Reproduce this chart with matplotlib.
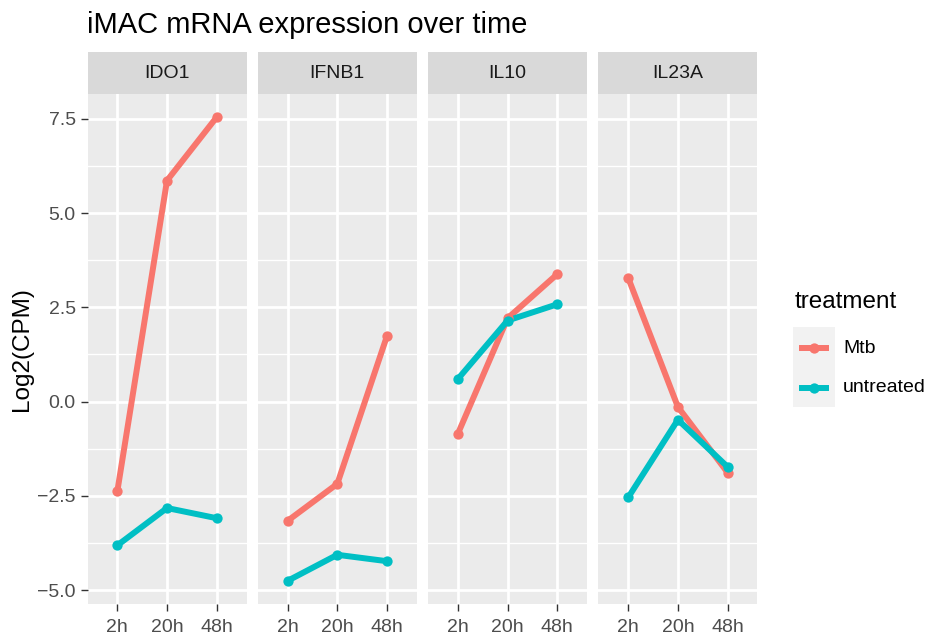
import matplotlib
matplotlib.use("Agg")
import matplotlib.pyplot as plt
import numpy as np

plt.rcParams["font.family"] = ["Liberation Sans", "DejaVu Sans"]

# log2 CPM per gene, one value per timepoint
genes = ["IDO1", "IFNB1", "IL10", "IL23A"]
timepoints = ["2h", "20h", "48h"]
treatments = ["Mtb", "untreated"]

ido1_mtb = [-2.38, 5.86, 7.54]
ido1_untreated = [-3.81, -2.82, -3.09]
ifnb1_mtb = [-3.16, -2.18, 1.74]
ifnb1_untreated = [-4.75, -4.06, -4.23]
il10_mtb = [-0.85, 2.21, 3.38]
il10_untreated = [0.60, 2.15, 2.58]
il23a_mtb = [3.28, -0.14, -1.88]
il23a_untreated = [-2.54, -0.48, -1.73]

y_ticks = [-5.0, -2.5, 0.0, 2.5, 5.0, 7.5]

series = {
    "IDO1": {"Mtb": ido1_mtb, "untreated": ido1_untreated},
    "IFNB1": {"Mtb": ifnb1_mtb, "untreated": ifnb1_untreated},
    "IL10": {"Mtb": il10_mtb, "untreated": il10_untreated},
    "IL23A": {"Mtb": il23a_mtb, "untreated": il23a_untreated},
}
colors = {"Mtb": "#F8766D", "untreated": "#00BFC4"}

W, H = 934, 635
fig = plt.figure(figsize=(W / 100, H / 100), dpi=100)


def px_box(x0, y0, x1, y1):
    return [x0 / W, 1 - y1 / H, (x1 - x0) / W, (y1 - y0) / H]


# shared y range, padded 5% like ggplot
all_vals = np.concatenate([series[g][t] for g in genes for t in treatments])
lo, hi = all_vals.min(), all_vals.max()
pad = 0.05 * (hi - lo)
ylim = (lo - pad, hi + pad)

x = np.arange(1, len(timepoints) + 1)
panel_w = 159
panel_step = 170.3
top, bottom = 94, 604

for i, gene in enumerate(genes):
    left = 87.5 + i * panel_step
    ax = fig.add_axes(px_box(left, top, left + panel_w, bottom))
    ax.set_facecolor("#EBEBEB")
    for sp in ax.spines.values():
        sp.set_visible(False)

    ax.set_xlim(0.4, len(timepoints) + 0.6)
    ax.set_ylim(ylim)
    ax.set_xticks(x, timepoints)
    ax.set_yticks(y_ticks)
    ax.set_yticks(np.array(y_ticks[:-1]) + 1.25, minor=True)
    ax.grid(which="major", color="white", lw=2.0)
    ax.grid(which="minor", axis="y", color="white", lw=1.0)
    ax.set_axisbelow(True)
    ax.tick_params(which="major", length=5, width=1.0, color="#333333",
                   labelcolor="#4D4D4D", labelsize=14)
    ax.tick_params(axis="x", pad=6)
    ax.tick_params(axis="y", pad=3.5)
    ax.tick_params(which="minor", length=0)
    if i == 0:
        ax.set_yticklabels([f"{v:.1f}".replace("-", "\u2212") for v in y_ticks])
    else:
        ax.tick_params(axis="y", which="major", length=0, labelleft=False)

    for t in treatments:
        ax.plot(x, series[gene][t], color=colors[t], lw=4.3,
                solid_capstyle="butt", zorder=2)
    for t in treatments:
        ax.scatter(x, series[gene][t], color=colors[t], s=55, lw=0, zorder=3)

    strip = fig.add_axes(px_box(left, 52, left + panel_w, top))
    strip.set_facecolor("#D9D9D9")
    strip.set_xticks([])
    strip.set_yticks([])
    for sp in strip.spines.values():
        sp.set_visible(False)
    strip.text(0.5, 0.5, gene, ha="center", va="center", fontsize=14,
               color="#1A1A1A", transform=strip.transAxes)

fig.text(87 / W, 1 - 25 / H, "iMAC mRNA expression over time",
         fontsize=21, ha="left", va="center")
fig.text(22 / W, 1 - 349 / H, "Log2(CPM)", rotation=90, fontsize=17.5,
         ha="center", va="center")

# legend
fig.text(795 / W, 1 - 302 / H, "treatment", fontsize=17.5, ha="left", va="center")
key = fig.add_axes(px_box(793, 327, 835, 407))
key.set_facecolor("#F2F2F2")
key.set_xlim(0, 1)
key.set_ylim(0, 1)
key.set_xticks([])
key.set_yticks([])
for sp in key.spines.values():
    sp.set_visible(False)
for t, ky, ty in zip(treatments, [0.74, 0.24], [348, 388]):
    key.plot([0.14, 0.86], [ky, ky], color=colors[t], lw=4.3, solid_capstyle="butt")
    key.scatter([0.5], [ky], color=colors[t], s=55, lw=0, zorder=3)
    fig.text(843 / W, 1 - ty / H, t, fontsize=14, ha="left", va="center")

fig.savefig("out.png", dpi=100)
